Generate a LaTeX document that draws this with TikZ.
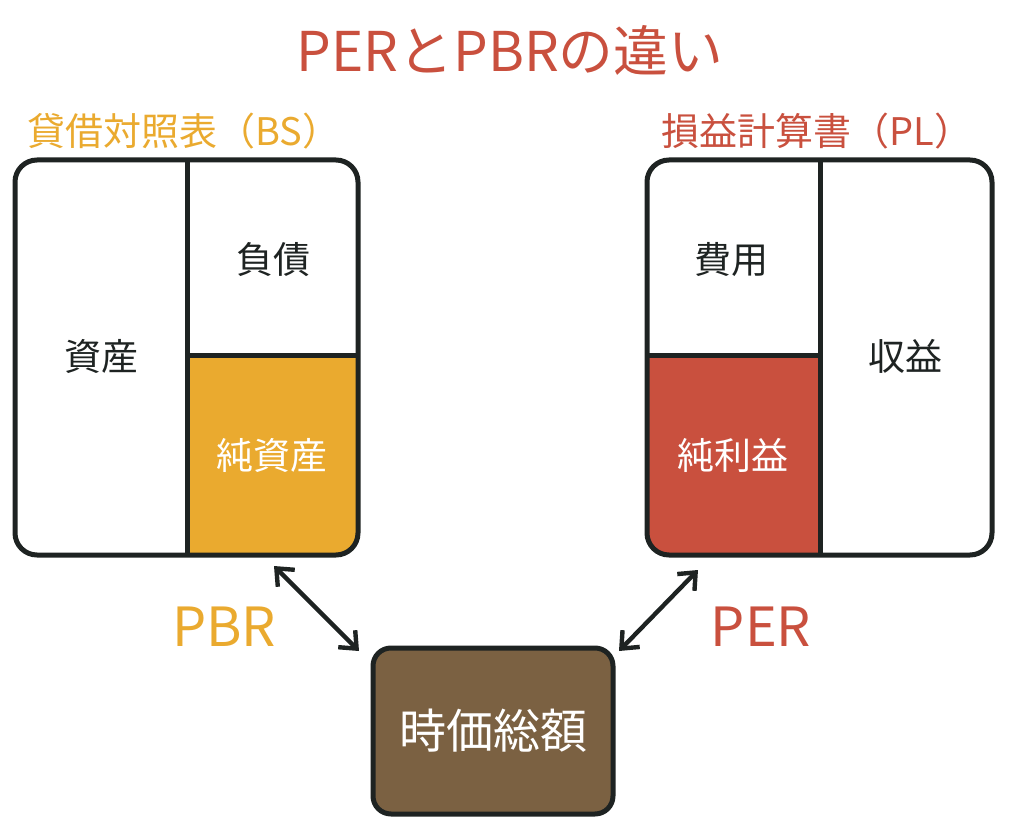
\documentclass[tikz,border=0pt]{standalone}
\usepackage{fontspec}
\setmainfont{Noto Sans CJK JP}
\usetikzlibrary{arrows.meta}

\definecolor{bsorange}{HTML}{EAAA2F}
\definecolor{plred}{HTML}{C9503E}
\definecolor{capbrown}{HTML}{7B6142}
\definecolor{inkline}{HTML}{1E2322}

\tikzset{
  panel/.style={draw=inkline, line width=2.5pt, rounded corners=11pt},
  split/.style={draw=inkline, line width=2.5pt},
  cell/.style={font=\fontsize{18.5}{20}\selectfont, text=inkline},
  whitecell/.style={font=\fontsize{18.5}{20}\selectfont, text=white},
  sheettitle/.style={font=\fontsize{19}{22}\selectfont},
  ratio/.style={font=\fontsize{27}{30}\selectfont},
  link/.style={inkline, line width=2.2pt, {Straight Barb[length=7pt,width=12pt]}-{Straight Barb[length=7pt,width=12pt]}},
}

\begin{document}
\begin{tikzpicture}[x=0.5pt, y=-0.5pt]
  \useasboundingbox (0,0) rectangle (1024,818);

  \node[font=\fontsize{27.4}{30}\selectfont, text=plred] (title) at (510,50) {PERとPBRの違い};

  % balance sheet
  \node[sheettitle, text=bsorange] (bstitle) at (184,131) {貸借対照表（BS）};
  \begin{scope}
    \clip[rounded corners=11pt] (15,160) rectangle (358,555);
    \fill[bsorange] (187,356) rectangle (358,555);
  \end{scope}
  \draw[split] (187,160) -- (187,555);
  \draw[split] (187,356) -- (358,356);
  \draw[panel] (15,160) rectangle (358,555);
  \node[cell] (asset) at (101,356) {資産};
  \node[cell] (debt) at (273,260) {負債};
  \node[whitecell] (equity) at (272,455) {純資産};

  % income statement
  \node[sheettitle, text=plred] (pltitle) at (817,131) {損益計算書（PL）};
  \begin{scope}
    \clip[rounded corners=11pt] (647,160) rectangle (992,555);
    \fill[plred] (647,356) rectangle (820,555);
  \end{scope}
  \draw[split] (820,160) -- (820,555);
  \draw[split] (647,356) -- (820,356);
  \draw[panel] (647,160) rectangle (992,555);
  \node[cell] (cost) at (731,260) {費用};
  \node[whitecell] (profit) at (733,455) {純利益};
  \node[cell] (revenue) at (905,356) {収益};

  % market cap
  \node[draw=inkline, fill=capbrown, line width=2.5pt, rounded corners=9pt,
        minimum width=120pt, minimum height=83pt, text=white,
        font=\fontsize{23.5}{26}\selectfont] (mcap) at (493,731) {時価総額};

  \coordinate (bsfoot) at (274,566);
  \coordinate (pbrend) at (359,651);
  \coordinate (plfoot) at (698,570);
  \coordinate (perend) at (619,651);
  \draw[link] (bsfoot) -- (pbrend);
  \draw[link] (plfoot) -- (perend);

  \node[ratio, text=bsorange] (pbr) at (224,627) {PBR};
  \node[ratio, text=plred] (per) at (761,627) {PER};
\end{tikzpicture}
\end{document}
